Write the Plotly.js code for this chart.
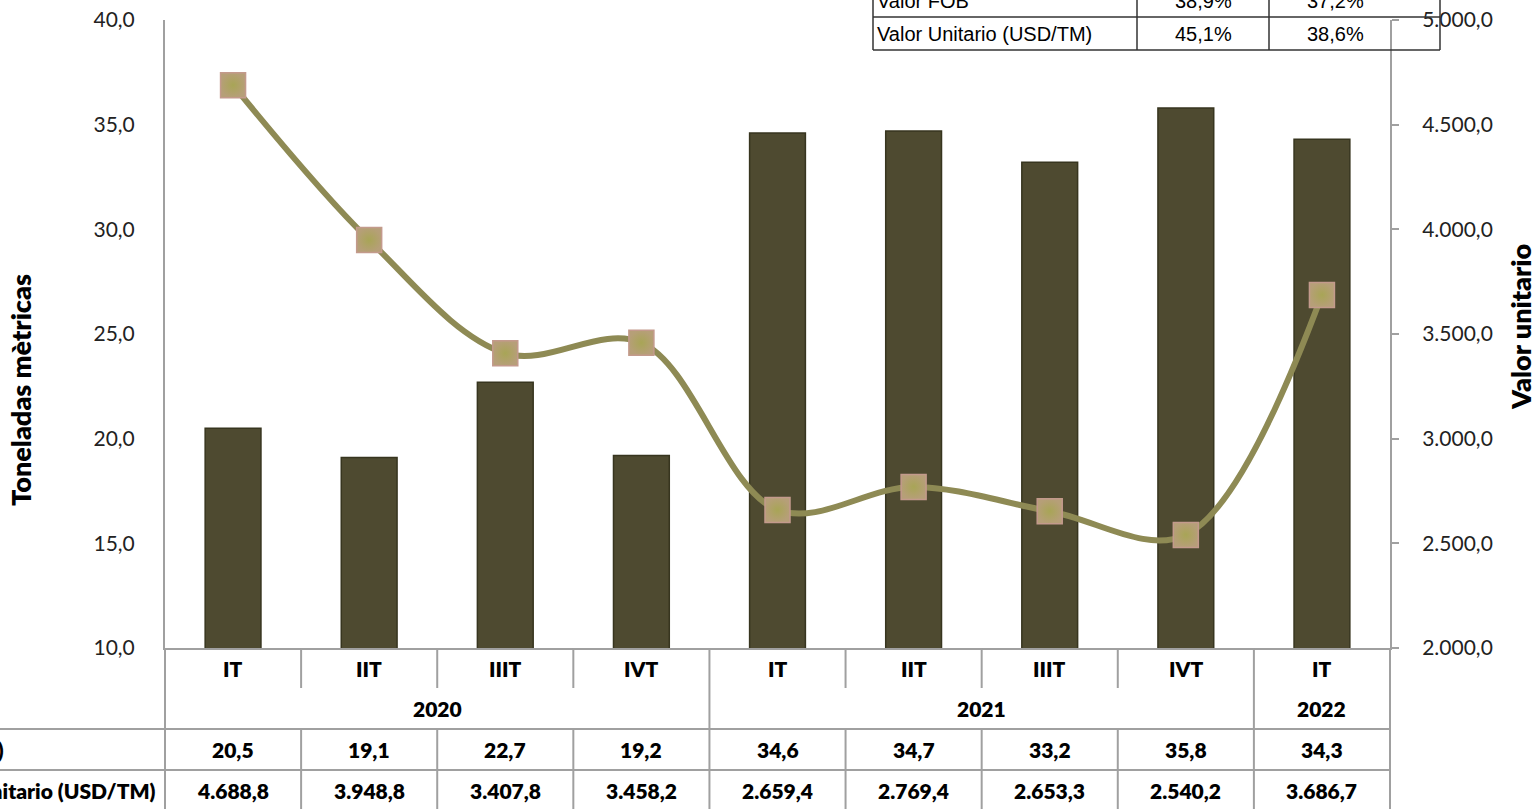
<!DOCTYPE html>
<html>
<head>
<meta charset="utf-8">
<script src="https://cdn.plot.ly/plotly-3.0.1.min.js"></script>
<style>html,body{margin:0;padding:0;background:#fff;}#chart{width:1538px;height:809px;}</style>
</head>
<body>
<div id="chart"></div>
<script>
// ---- data ----
const quarters = ['IT','IIT','IIIT','IVT','IT','IIT','IIIT','IVT','IT'];
const years = ['2020','2021','2022'];
const yearSpans = [4, 4, 1];
const volume = [20.5, 19.1, 22.7, 19.2, 34.6, 34.7, 33.2, 35.8, 34.3];
const unitValue = [4688.8, 3948.8, 3407.8, 3458.2, 2659.4, 2769.4, 2653.3, 2540.2, 3686.7];
const rowLabels = ['Volumen (TM)', 'Valor Unitario (USD/TM)'];
const varLabels = ['Valor FOB', 'Valor Unitario (USD/TM)'];
const varColA = [38.9, 45.1];
const varColB = [37.2, 38.6];

// ---- helpers ----
function fmt(v) {
  const parts = v.toFixed(1).split('.');
  const intPart = parts[0].replace(/\B(?=(\d{3})+(?!\d))/g, '.');
  return intPart + ',' + parts[1];
}
function pct(v) { return v.toFixed(1).replace('.', ',') + '%'; }
const L = 165, R = 1390, T = 20, B = 648;
const px = p => (p - L) / (R - L);
const py = p => (B - p) / (B - T);

const xs = quarters.map((_, i) => i);

const bars = {
  type: 'bar', x: xs, y: volume, yaxis: 'y', width: 0.41,
  marker: { color: '#4e4a30', line: { color: '#37351f', width: 1.5 } },
  hoverinfo: 'y', showlegend: false
};
const line = {
  type: 'scatter', mode: 'lines+markers', x: xs, y: unitValue, yaxis: 'y2',
  line: { color: '#8e8a54', width: 6, shape: 'spline', smoothing: 1 },
  marker: { symbol: 'square', size: 25, color: '#b69f78',
            gradient: { type: 'radial', color: '#a8a556' },
            line: { color: '#c39a8c', width: 1.5 } },
  showlegend: false
};

const gray = '#a0a0a0';
const shapes = [];
const annotations = [];
const FAM = 'Lato, "Open Sans", sans-serif';
const tf = { family: FAM, size: 21, color: '#000', weight: 800 };

// bottom table lines
let start = 0;
const yearBoundaries = [];
yearSpans.forEach(s => { start += s; yearBoundaries.push(start - 0.5); });
for (let i = 0; i < quarters.length - 1; i++) {
  const xb = i + 0.5;
  if (yearBoundaries.includes(xb)) {
    shapes.push({ type: 'line', xref: 'x', yref: 'paper', x0: xb, x1: xb, y0: py(648), y1: py(812), line: { color: gray, width: 2 } });
  } else {
    shapes.push({ type: 'line', xref: 'x', yref: 'paper', x0: xb, x1: xb, y0: py(648), y1: py(688), line: { color: gray, width: 2 } });
    shapes.push({ type: 'line', xref: 'x', yref: 'paper', x0: xb, x1: xb, y0: py(729), y1: py(812), line: { color: gray, width: 2 } });
  }
}
shapes.push({ type: 'line', xref: 'paper', yref: 'paper', x0: 0, x1: 0, y0: py(648), y1: py(812), line: { color: gray, width: 2 } });
shapes.push({ type: 'line', xref: 'paper', yref: 'paper', x0: 1, x1: 1, y0: py(648), y1: py(812), line: { color: gray, width: 2 } });
[729, 770].forEach(p => {
  shapes.push({ type: 'line', xref: 'paper', yref: 'paper', x0: px(-10), x1: 1, y0: py(p), y1: py(p), line: { color: gray, width: 2 } });
});

// bottom table text
quarters.forEach((q, i) => {
  annotations.push({ xref: 'x', yref: 'paper', x: i, y: py(668), text: q, showarrow: false, font: tf, xanchor: 'center', yanchor: 'middle' });
  annotations.push({ xref: 'x', yref: 'paper', x: i, y: py(749), text: fmt(volume[i]), showarrow: false, font: tf, xanchor: 'center', yanchor: 'middle' });
  annotations.push({ xref: 'x', yref: 'paper', x: i, y: py(790), text: fmt(unitValue[i]), showarrow: false, font: tf, xanchor: 'center', yanchor: 'middle' });
});
start = 0;
years.forEach((yr, k) => {
  const c = start + (yearSpans[k] - 1) / 2;
  start += yearSpans[k];
  annotations.push({ xref: 'x', yref: 'paper', x: c, y: py(708), text: yr, showarrow: false, font: tf, xanchor: 'center', yanchor: 'middle' });
});
annotations.push({ xref: 'paper', yref: 'paper', x: px(6), y: py(749), text: rowLabels[0], showarrow: false, font: tf, xanchor: 'right', yanchor: 'middle' });
annotations.push({ xref: 'paper', yref: 'paper', x: px(158), y: py(790), text: rowLabels[1], showarrow: false, font: tf, xanchor: 'right', yanchor: 'middle' });

// axis titles
const titleFont = { family: FAM, size: 27, color: '#000', weight: 800 };
annotations.push({ xref: 'paper', yref: 'paper', x: px(20), y: py(390), text: 'Toneladas mètricas', textangle: -90, showarrow: false, font: titleFont, xanchor: 'center', yanchor: 'middle' });
annotations.push({ xref: 'paper', yref: 'paper', x: px(1521), y: py(327), text: 'Valor unitario', textangle: -90, showarrow: false, font: titleFont, xanchor: 'center', yanchor: 'middle' });

// top-right variation table
const bk = '#333';
[17, 50].forEach(p => shapes.push({ type: 'line', xref: 'paper', yref: 'paper', x0: px(873), x1: px(1440), y0: py(p), y1: py(p), line: { color: bk, width: 1.5 } }));
[873, 1137, 1269, 1440].forEach(p => shapes.push({ type: 'line', xref: 'paper', yref: 'paper', x0: px(p), x1: px(p), y0: py(-20), y1: py(50), line: { color: bk, width: 1.5 } }));
const ttf = { family: '"Liberation Sans", Arial, sans-serif', size: 20, color: '#000' };
const rowY = [1, 34];
varLabels.forEach((lab, k) => {
  annotations.push({ xref: 'paper', yref: 'paper', x: px(875), y: py(rowY[k]), text: lab, showarrow: false, font: ttf, xanchor: 'left', yanchor: 'middle' });
  annotations.push({ xref: 'paper', yref: 'paper', x: px(1203), y: py(rowY[k]), text: pct(varColA[k]), showarrow: false, font: ttf, xanchor: 'center', yanchor: 'middle' });
  annotations.push({ xref: 'paper', yref: 'paper', x: px(1335), y: py(rowY[k]), text: pct(varColB[k]), showarrow: false, font: ttf, xanchor: 'center', yanchor: 'middle' });
});

const layout = {
  width: 1538, height: 809,
  margin: { l: L, r: 1538 - R, t: T, b: 809 - B },
  paper_bgcolor: '#fff', plot_bgcolor: '#fff',
  separators: ',.',
  showlegend: false,
  font: { family: FAM, size: 21, color: '#222' },
  xaxis: { range: [-0.5, 8.5], showticklabels: false, ticks: '', showgrid: false, zeroline: false,
           showline: true, linecolor: gray, linewidth: 2, fixedrange: true },
  yaxis: { range: [10, 40], dtick: 5, tickformat: '.1f', showgrid: false, zeroline: false,
           showline: true, linecolor: gray, linewidth: 2, ticks: '', ticklabelstandoff: 24,
           tickfont: { family: FAM, size: 21, color: '#222' } },
  yaxis2: { range: [2000, 5000], dtick: 500, tickformat: ',.1f', overlaying: 'y', side: 'right',
            showgrid: false, zeroline: false, showline: true, linecolor: gray, linewidth: 2,
            ticks: 'outside', ticklen: 7, tickcolor: gray, tickwidth: 2, ticklabelstandoff: 19,
            tickfont: { family: FAM, size: 21, color: '#222' } },
  bargap: 0.6,
  shapes: shapes,
  annotations: annotations
};

Plotly.newPlot('chart', [bars, line], layout, { displayModeBar: false, staticPlot: true });
</script>
</body>
</html>
